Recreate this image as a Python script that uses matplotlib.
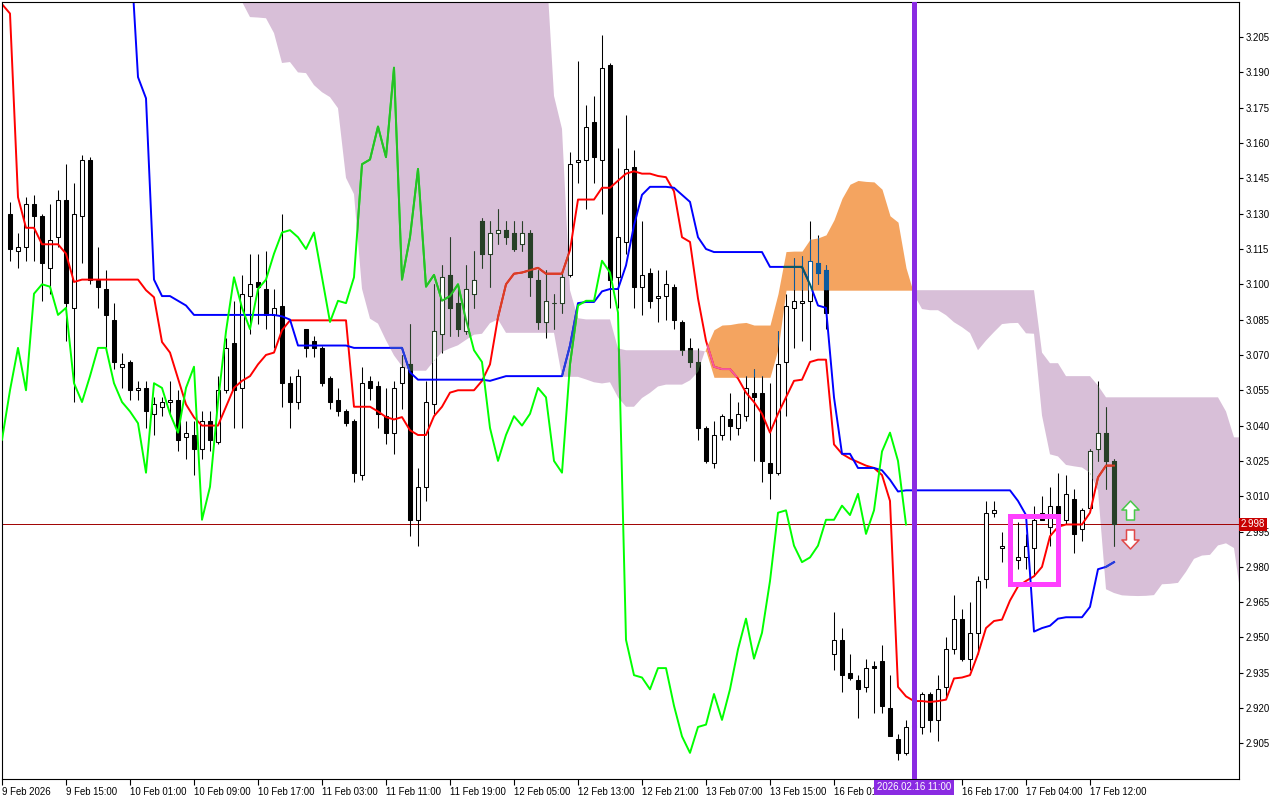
import numpy as np
import matplotlib
matplotlib.use("Agg")
import matplotlib.pyplot as plt
import matplotlib.colors as mcolors
from matplotlib.path import Path
from matplotlib.patches import PathPatch, Rectangle
from matplotlib.transforms import blended_transform_factory

plt.rcParams['font.family'] = ['Liberation Sans', 'DejaVu Sans']

# H1 candles, 9 Feb 2026 .. 17 Feb 2026
opens = [3.130, 3.114, 3.116, 3.134, 3.129, 3.107, 3.120, 3.136, 3.090, 3.129,
         3.153, 3.102, 3.098, 3.085, 3.065, 3.067, 3.055, 3.056, 3.045, 3.048,
         3.050, 3.051, 3.035, 3.036, 3.030, 3.042, 3.033, 3.055, 3.075, 3.056,
         3.095, 3.101, 3.098, 3.087, 3.091, 3.058, 3.050, 3.081, 3.076, 3.073,
         3.060, 3.051, 3.046, 3.042, 3.019, 3.059, 3.057, 3.044, 3.037, 3.058,
         3.066, 3.000, 3.014, 3.049, 3.079, 3.104, 3.092, 3.080, 3.096, 3.127,
         3.113, 3.122, 3.123, 3.122, 3.117, 3.122, 3.102, 3.084, 3.092, 3.092,
         3.104, 3.152, 3.153, 3.169, 3.153, 3.193, 3.103, 3.118, 3.150, 3.099,
         3.105, 3.094, 3.095, 3.099, 3.084, 3.073, 3.067, 3.039, 3.024, 3.036,
         3.043, 3.039, 3.044, 3.054, 3.054, 3.024, 3.020, 3.067, 3.090, 3.092,
         3.093, 3.109, 3.106, 2.943, 2.949, 2.935, 2.932, 2.929, 2.938, 2.940,
         2.920, 2.907, 2.901, 2.912, 2.912, 2.926, 2.915, 2.929, 2.945, 2.958,
         2.941, 2.952, 2.975, 3.003, 2.988, 2.989, 2.983, 2.984, 2.988, 3.003,
         2.997, 3.006, 3.000, 3.009, 2.996, 3.005, 3.030, 3.037, 3.025]
highs = [3.135, 3.122, 3.137, 3.138, 3.130, 3.134, 3.140, 3.151, 3.143, 3.155,
         3.154, 3.116, 3.106, 3.092, 3.071, 3.068, 3.059, 3.059, 3.052, 3.052,
         3.059, 3.055, 3.042, 3.042, 3.046, 3.046, 3.061, 3.077, 3.093, 3.104,
         3.113, 3.113, 3.114, 3.098, 3.130, 3.061, 3.064, 3.081, 3.078, 3.074,
         3.061, 3.056, 3.047, 3.043, 3.065, 3.061, 3.059, 3.056, 3.059, 3.070,
         3.083, 3.022, 3.059, 3.100, 3.108, 3.120, 3.098, 3.108, 3.114, 3.128,
         3.127, 3.132, 3.127, 3.127, 3.127, 3.123, 3.106, 3.106, 3.096, 3.106,
         3.156, 3.195, 3.176, 3.180, 3.206, 3.194, 3.158, 3.172, 3.157, 3.127,
         3.107, 3.106, 3.106, 3.100, 3.085, 3.077, 3.073, 3.040, 3.042, 3.045,
         3.054, 3.050, 3.061, 3.064, 3.061, 3.058, 3.080, 3.096, 3.111, 3.112,
         3.127, 3.121, 3.108, 2.961, 2.954, 2.943, 2.934, 2.941, 2.940, 2.947,
         2.934, 2.909, 2.915, 2.918, 2.927, 2.927, 2.934, 2.950, 2.968, 2.962,
         2.965, 2.976, 3.008, 3.008, 2.995, 2.993, 2.999, 2.994, 3.006, 3.010,
         3.014, 3.020, 3.019, 3.013, 3.005, 3.030, 3.059, 3.048, 3.026]
lows = [3.110, 3.107, 3.110, 3.110, 3.093, 3.096, 3.116, 3.076, 3.050, 3.109,
        3.100, 3.090, 3.072, 3.064, 3.056, 3.051, 3.051, 3.039, 3.036, 3.044,
        3.044, 3.029, 3.026, 3.019, 3.026, 3.029, 3.032, 3.054, 3.039, 3.039,
        3.079, 3.083, 3.081, 3.073, 3.048, 3.039, 3.047, 3.069, 3.069, 3.057,
        3.047, 3.044, 3.040, 3.016, 3.017, 3.051, 3.039, 3.032, 3.028, 3.047,
        2.993, 2.989, 3.008, 3.045, 3.071, 3.078, 3.078, 3.079, 3.090, 3.107,
        3.099, 3.117, 3.117, 3.114, 3.114, 3.095, 3.081, 3.077, 3.081, 3.088,
        3.103, 3.143, 3.132, 3.143, 3.130, 3.090, 3.090, 3.113, 3.090, 3.087,
        3.090, 3.084, 3.085, 3.081, 3.070, 3.065, 3.034, 3.024, 3.022, 3.034,
        3.034, 3.036, 3.042, 3.025, 3.016, 3.009, 3.019, 3.044, 3.073, 3.076,
        3.072, 3.100, 3.081, 2.936, 2.927, 2.932, 2.916, 2.927, 2.918, 2.918,
        2.908, 2.898, 2.900, 2.906, 2.909, 2.910, 2.906, 2.924, 2.943, 2.940,
        2.936, 2.943, 2.971, 3.001, 2.982, 2.979, 2.979, 2.979, 2.976, 3.000,
        2.989, 2.997, 2.998, 2.986, 2.991, 3.004, 3.025, 3.013, 2.989]
closes = [3.115, 3.116, 3.134, 3.129, 3.109, 3.119, 3.136, 3.092, 3.130, 3.153,
          3.102, 3.099, 3.087, 3.067, 3.066, 3.055, 3.056, 3.046, 3.049, 3.050,
          3.051, 3.034, 3.037, 3.030, 3.042, 3.034, 3.055, 3.073, 3.055, 3.096,
          3.100, 3.099, 3.087, 3.090, 3.058, 3.050, 3.061, 3.073, 3.073, 3.058,
          3.050, 3.046, 3.041, 3.020, 3.058, 3.056, 3.045, 3.037, 3.056, 3.065,
          3.000, 3.014, 3.050, 3.080, 3.103, 3.090, 3.081, 3.098, 3.102, 3.113,
          3.122, 3.123, 3.120, 3.115, 3.122, 3.103, 3.084, 3.093, 3.092, 3.103,
          3.151, 3.153, 3.167, 3.154, 3.192, 3.102, 3.120, 3.149, 3.099, 3.104,
          3.093, 3.095, 3.100, 3.085, 3.072, 3.067, 3.039, 3.025, 3.036, 3.044,
          3.040, 3.045, 3.056, 3.052, 3.025, 3.020, 3.066, 3.091, 3.093, 3.093,
          3.110, 3.105, 3.088, 2.949, 2.934, 2.933, 2.928, 2.937, 2.937, 2.921,
          2.908, 2.901, 2.912, 2.913, 2.926, 2.915, 2.928, 2.945, 2.958, 2.941,
          2.952, 2.974, 3.003, 3.004, 2.989, 2.982, 2.984, 2.989, 3.000, 3.000,
          3.006, 3.002, 3.011, 2.994, 3.004, 3.029, 3.037, 3.025, 2.998]

# Tenkan-sen / Kijun-sen, one value per bar starting one bar left of the first candle
tenkan = [3.219, 3.215, 3.137, 3.124, 3.124, 3.117, 3.117, 3.117, 3.113, 3.101,
          3.102, 3.102, 3.102, 3.102, 3.102, 3.102, 3.102, 3.102, 3.0975, 3.0945,
          3.0755, 3.071, 3.060, 3.049, 3.0435, 3.040, 3.040, 3.040, 3.048, 3.056,
          3.059, 3.061, 3.066, 3.070, 3.071, 3.0805, 3.0847, 3.0847, 3.0847, 3.0847,
          3.0847, 3.0847, 3.0847, 3.0847, 3.048, 3.048, 3.048, 3.046, 3.0436, 3.0426,
          3.0436, 3.038, 3.036, 3.036, 3.044, 3.048, 3.054, 3.055, 3.055, 3.055,
          3.059, 3.066, 3.086, 3.100, 3.1045, 3.105, 3.106, 3.107, 3.1045, 3.1045,
          3.1045, 3.1145, 3.136, 3.136, 3.136, 3.141, 3.141, 3.144, 3.147, 3.148,
          3.147, 3.147, 3.146, 3.1455, 3.1395, 3.120, 3.118, 3.094, 3.076, 3.065,
          3.064, 3.064, 3.060, 3.054, 3.050, 3.045, 3.037, 3.045, 3.052, 3.059,
          3.0595, 3.067, 3.068, 3.068, 3.032, 3.028, 3.026, 3.0245, 3.023, 3.022,
          3.019, 3.008, 2.929, 2.925, 2.923, 2.923, 2.9226, 2.923, 2.9236, 2.9326,
          2.933, 2.934, 2.943, 2.954, 2.957, 2.9576, 2.9657, 2.9717, 2.974, 2.976,
          2.980, 2.993, 2.997, 2.998, 2.998, 2.998, 3.003, 3.018, 3.023, 3.023]
kijun = [3.250, 3.250, 3.250, 3.250, 3.250, 3.250, 3.250, 3.250, 3.250, 3.250,
         3.250, 3.250, 3.250, 3.250, 3.250, 3.250, 3.246, 3.188, 3.179, 3.102,
         3.095, 3.095, 3.093, 3.091, 3.087, 3.087, 3.087, 3.087, 3.087, 3.087,
         3.087, 3.087, 3.087, 3.087, 3.087, 3.0864, 3.085, 3.074, 3.074, 3.074,
         3.074, 3.074, 3.074, 3.074, 3.073, 3.073, 3.073, 3.073, 3.073, 3.073,
         3.073, 3.0626, 3.0595, 3.0595, 3.0595, 3.0595, 3.0595, 3.0595, 3.0595, 3.0595,
         3.0595, 3.059, 3.060, 3.061, 3.061, 3.061, 3.061, 3.061, 3.061, 3.061,
         3.061, 3.074, 3.092, 3.0925, 3.0925, 3.097, 3.098, 3.098, 3.108, 3.125,
         3.138, 3.1414, 3.1414, 3.1414, 3.141, 3.138, 3.135, 3.120, 3.115, 3.1137,
         3.1137, 3.1137, 3.1137, 3.1137, 3.1137, 3.1137, 3.1074, 3.1074, 3.1074, 3.1074,
         3.1074, 3.100, 3.091, 3.090, 3.052, 3.028, 3.028, 3.022, 3.022, 3.022,
         3.021, 3.017, 3.012, 3.0125, 3.0125, 3.0125, 3.0125, 3.0125, 3.0125, 3.0125,
         3.0125, 3.0125, 3.0125, 3.0125, 3.0125, 3.0125, 3.0125, 3.008, 3.002, 2.9525,
         2.954, 2.955, 2.958, 2.9586, 2.9586, 2.9586, 2.963, 2.979, 2.980, 2.982]

# Senkou span A / B (already shifted 26 bars ahead), from one bar left of the first candle
span_a = [3.240, 3.240, 3.240, 3.240, 3.240, 3.240, 3.240, 3.240, 3.240, 3.240,
          3.240, 3.240, 3.240, 3.240, 3.240, 3.240, 3.240, 3.240, 3.240, 3.240,
          3.240, 3.240, 3.240, 3.240, 3.240, 3.240, 3.240, 3.240, 3.233, 3.226,
          3.220, 3.2135, 3.2133, 3.213, 3.2067, 3.194, 3.1944, 3.190, 3.1897, 3.1846,
          3.1816, 3.1795, 3.1748, 3.1452, 3.1383, 3.0981, 3.0854, 3.0833, 3.0762, 3.0698,
          3.0652, 3.0633, 3.0633, 3.0633, 3.0675, 3.0713, 3.0728, 3.0741, 3.0764, 3.0786,
          3.079, 3.0835, 3.0851, 3.0794, 3.0794, 3.0794, 3.0794, 3.0794, 3.0794, 3.0794,
          3.0607, 3.0607, 3.0607, 3.0596, 3.0584, 3.0579, 3.0584, 3.052, 3.048, 3.048,
          3.0517, 3.0539, 3.0566, 3.0574, 3.0574, 3.0574, 3.0592, 3.0628, 3.073, 3.0807,
          3.0827, 3.0829, 3.0835, 3.0838, 3.0827, 3.0827, 3.0827, 3.096, 3.1139, 3.1141,
          3.1141, 3.1191, 3.1197, 3.121, 3.1274, 3.1365, 3.1425, 3.1441, 3.1437, 3.1435,
          3.1404, 3.1291, 3.1264, 3.107, 3.0956, 3.0895, 3.089, 3.089, 3.0869, 3.0839,
          3.0818, 3.0793, 3.072, 3.0761, 3.0797, 3.0831, 3.0835, 3.0836, 3.0792, 3.079,
          3.0443, 3.0278, 3.0269, 3.0233, 3.0227, 3.0222, 3.0199, 3.0125, 2.9705, 2.9689,
          2.9679, 2.9677, 2.9676, 2.9677, 2.968, 2.9726, 2.9728, 2.9732, 2.9779, 2.9834,
          2.9848, 2.9851, 2.9891, 2.990, 2.988, 2.9642]
span_b = [3.250, 3.250, 3.250, 3.250, 3.250, 3.250, 3.250, 3.250, 3.250, 3.250,
          3.250, 3.250, 3.250, 3.250, 3.250, 3.250, 3.250, 3.250, 3.250, 3.250,
          3.250, 3.250, 3.250, 3.250, 3.250, 3.250, 3.250, 3.250, 3.250, 3.250,
          3.250, 3.250, 3.250, 3.250, 3.250, 3.250, 3.250, 3.250, 3.250, 3.250,
          3.250, 3.250, 3.250, 3.250, 3.250, 3.250, 3.250, 3.250, 3.250, 3.250,
          3.250, 3.250, 3.250, 3.250, 3.250, 3.250, 3.250, 3.250, 3.250, 3.250,
          3.250, 3.250, 3.250, 3.250, 3.250, 3.250, 3.250, 3.250, 3.238, 3.180,
          3.166, 3.0975, 3.0856, 3.0851, 3.0851, 3.0851, 3.0851, 3.0728, 3.072, 3.072,
          3.072, 3.072, 3.072, 3.072, 3.072, 3.072, 3.072, 3.072, 3.0715, 3.0605,
          3.0605, 3.0605, 3.0605, 3.0605, 3.0605, 3.0605, 3.0605, 3.0725, 3.0975, 3.0975,
          3.0975, 3.0975, 3.0975, 3.0975, 3.0975, 3.0975, 3.0975, 3.0975, 3.0975, 3.0975,
          3.0975, 3.0975, 3.0975, 3.0975, 3.0975, 3.0975, 3.0975, 3.0975, 3.0975, 3.0975,
          3.0975, 3.0975, 3.0975, 3.0975, 3.0975, 3.0975, 3.0975, 3.0975, 3.0975, 3.0975,
          3.071, 3.0665, 3.0665, 3.061, 3.061, 3.061, 3.061, 3.057, 3.052, 3.052,
          3.052, 3.052, 3.052, 3.052, 3.052, 3.052, 3.052, 3.052, 3.052, 3.052,
          3.052, 3.052, 3.052, 3.046, 3.035, 3.035]

# the 16 Feb 09:00 label sits under the vertical-line label, only "16 Feb 01" shows
x_labels = ["9 Feb 2026", "9 Feb 15:00", "10 Feb 01:00", "10 Feb 09:00", "10 Feb 17:00",
            "11 Feb 03:00", "11 Feb 11:00", "11 Feb 19:00", "12 Feb 05:00", "12 Feb 13:00",
            "12 Feb 21:00", "13 Feb 07:00", "13 Feb 15:00", "16 Feb 01", "",
            "16 Feb 17:00", "17 Feb 04:00", "17 Feb 12:00"]
last_price = 2.998
vline_bar = 113
vline_label = "2026.02.16 11:00"
box_bars = (125, 131)
box_prices = (2.9727, 3.0015)
arrow_bar = 140
arrow_up_price = 3.0041
arrow_down_price = 2.9918

THISTLE = "#D8BFD8"
SANDY = "#F4A460"

O = np.array(opens); H = np.array(highs); L = np.array(lows); C = np.array(closes)
bars = np.arange(len(O))
line_x = np.arange(-1, len(tenkan) - 1)
cloud_x = np.arange(-1, len(span_a) - 1)
a = np.array(span_a); b = np.array(span_b)
up = C >= O
body_lo = np.minimum(O, C)
body_h = np.abs(C - O)

fig = plt.figure(figsize=(12.8, 8), dpi=100)
ax = fig.add_axes([2 / 1280, 21 / 800, 1237 / 1280, 777 / 800])
ax.set_facecolor("white")

thistle = ax.fill_between(cloud_x, a, b, where=b >= a, interpolate=True,
                          color=THISTLE, lw=0, zorder=1)
sandy = ax.fill_between(cloud_x, a, b, where=a > b, interpolate=True,
                        color=SANDY, lw=0, zorder=1)


def clip_of(coll):
    p = Path.make_compound_path(*coll.get_paths())
    return PathPatch(p, transform=ax.transData)


def xnor(color, cloud):
    c1 = np.round(np.array(mcolors.to_rgb(color)) * 255).astype(int)
    c2 = np.round(np.array(mcolors.to_rgb(cloud)) * 255).astype(int)
    return tuple((255 - (c1 ^ c2)) / 255)


def draw_layer(tint, z, clip=None):
    ink = tint("#000000")
    arts = [ax.vlines(bars, L, H, colors=[ink], lw=0.75, zorder=z)]
    arts += list(ax.bar(bars[~up], body_h[~up], bottom=body_lo[~up], width=0.6,
                        facecolor=ink, edgecolor=ink, lw=0.75, zorder=z))
    arts += list(ax.bar(bars[up], body_h[up], bottom=body_lo[up], width=0.6,
                        facecolor="white", edgecolor=ink, lw=0.75, zorder=z))
    arts += ax.plot(line_x, tenkan, color=tint("#FF0000"), lw=1.4, zorder=z + 0.5)
    arts += ax.plot(line_x, kijun, color=tint("#0000FF"), lw=1.4, zorder=z + 0.5)
    # chikou span: closes drawn 26 bars back
    arts += ax.plot(bars[25:] - 26, C[25:], color=tint("#00FF00"), lw=1.4, zorder=z + 0.6)
    if clip is not None:
        for art in arts:
            art.set_clip_path(clip)


ax.axhline(last_price, color="#A00000", lw=0.7, zorder=1.5)
draw_layer(lambda c: c, 2)
draw_layer(lambda c: xnor(c, THISTLE), 3, clip_of(thistle))
draw_layer(lambda c: xnor(c, SANDY), 3, clip_of(sandy))

ax.axvline(vline_bar, color="#8A2BE2", lw=3.6, zorder=6)
ax.add_patch(Rectangle((box_bars[0], box_prices[0]), box_bars[1] - box_bars[0],
                       box_prices[1] - box_prices[0], fill=False,
                       edgecolor="#FF40FF", lw=3.6, zorder=7))

up_arrow = Path([(0, 1), (0.9, 0.05), (0.42, 0.05), (0.42, -1), (-0.42, -1),
                 (-0.42, 0.05), (-0.9, 0.05), (0, 1)],
                [Path.MOVETO] + [Path.LINETO] * 6 + [Path.CLOSEPOLY])
down_arrow = Path([(x, -y) for x, y in up_arrow.vertices], up_arrow.codes)
ax.plot([arrow_bar], [arrow_up_price], marker=up_arrow, ms=13.7, mfc="white",
        mec="#48C848", mew=1.1, zorder=8)
ax.plot([arrow_bar], [arrow_down_price], marker=down_arrow, ms=13.7, mfc="white",
        mec="#E04848", mew=1.1, zorder=8)

ax.set_xlim(-1, -1 + 1237 / 8)
ax.set_ylim(2.8899, 3.2199)

yt = [round(2.905 + 0.015 * k, 3) for k in range(21)]
ax.yaxis.tick_right()
ax.set_yticks(yt)
ax.set_yticklabels([f"{v:.3f}" for v in yt])
ax.tick_params(axis="y", direction="out", length=3, width=0.8, pad=1.5, labelsize=6.9)
ax.set_xticks([-1 + 8 * k for k in range(len(x_labels))])
ax.set_xticklabels(x_labels, ha="left")
ax.tick_params(axis="x", direction="out", length=4, width=0.8, pad=1.5, labelsize=6.9)
for s in ax.spines.values():
    s.set_color("black")
    s.set_linewidth(0.8)

tr_y = blended_transform_factory(ax.transAxes, ax.transData)
ax.text(1.0015, last_price, f"{last_price:.3f}", transform=tr_y, ha="left", va="center",
        color="white", fontsize=6.9, clip_on=False, zorder=10,
        bbox=dict(boxstyle="square,pad=0.2", fc="#C80000", ec="none"))
tr_x = blended_transform_factory(ax.transData, ax.transAxes)
ax.text(vline_bar, -0.0045, vline_label, transform=tr_x, ha="center", va="top",
        color="white", fontsize=6.9, clip_on=False, zorder=10,
        bbox=dict(boxstyle="square,pad=0.25", fc="#8A2BE2", ec="none"))

fig.savefig("out.png", dpi=100)
